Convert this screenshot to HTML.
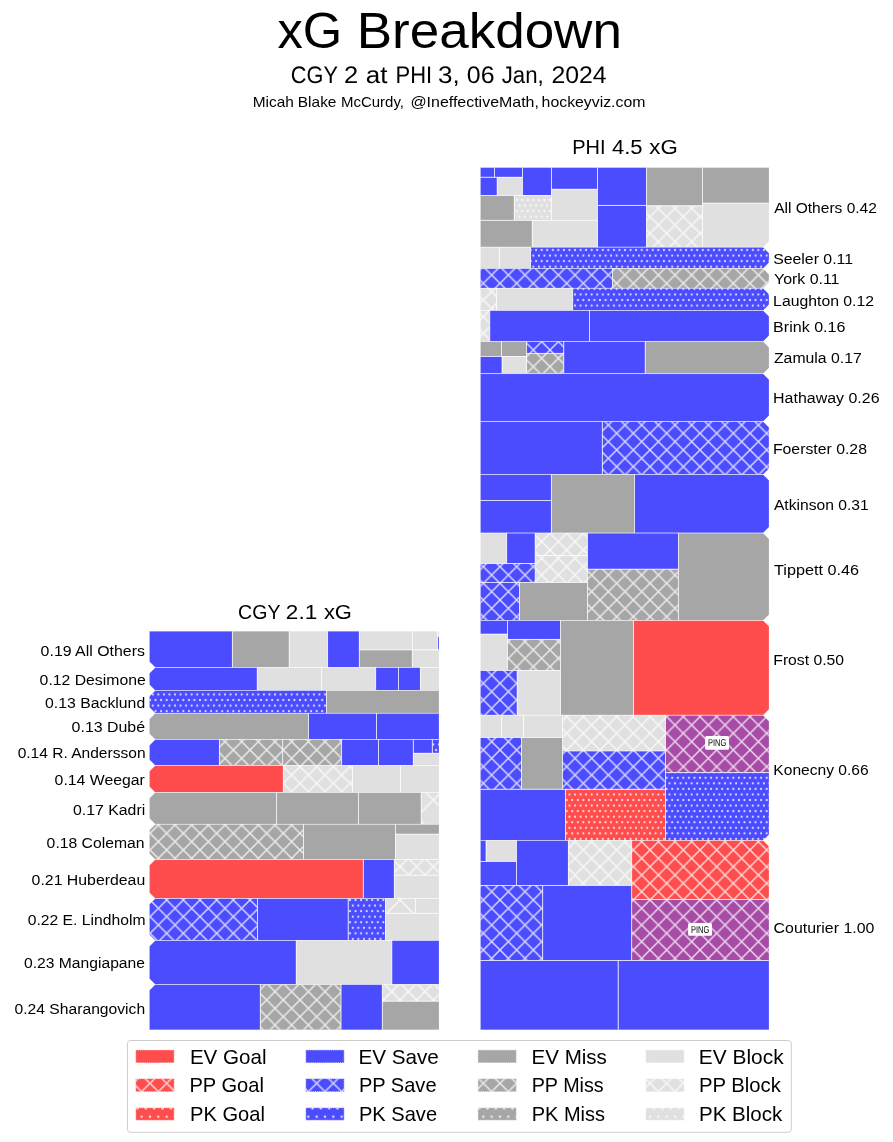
<!DOCTYPE html>
<html><head><meta charset="utf-8"><title>xG Breakdown</title>
<style>html,body{margin:0;padding:0;background:#fff}svg{display:block;will-change:transform}text{font-family:"Liberation Sans",sans-serif;fill:#000}</style></head><body>
<svg width="893" height="1142" viewBox="0 0 893 1142">
<defs>
<pattern id="hx" patternUnits="userSpaceOnUse" x="0" y="0" width="16.6667" height="16.6667"><path d="M-1,-1L17.6667,17.6667M-1,17.6667L17.6667,-1M-17.6667,-1L1,17.6667M15.6667,-1L34.3333,17.6667M-1.0000,1L1,-1M15.6667,17.6667L17.6667,15.6667" stroke="#FFFFFF" stroke-opacity="0.78" stroke-width="1.45" fill="none"/></pattern>
<pattern id="hX" patternUnits="userSpaceOnUse" x="0" y="0" width="33.3333" height="33.3333"><path d="M-1,-1L34.3333,34.3333M-1,34.3333L34.3333,-1M-1.0000,1L1,-1M32.3333,34.3333L34.3333,32.3333M32.3333,-1L34.3333,1M-1,32.3333L1,34.3333" stroke="#FFFFFF" stroke-opacity="0.78" stroke-width="1.45" fill="none"/></pattern>
<pattern id="hd" patternUnits="userSpaceOnUse" x="0" y="0" width="5.5556" height="11.1111"><circle cx="0.0000" cy="0.0000" r="1.1" fill="#FFFFFF" fill-opacity="0.78"/><circle cx="5.5556" cy="0.0000" r="1.1" fill="#FFFFFF" fill-opacity="0.78"/><circle cx="0.0000" cy="11.1111" r="1.1" fill="#FFFFFF" fill-opacity="0.78"/><circle cx="5.5556" cy="11.1111" r="1.1" fill="#FFFFFF" fill-opacity="0.78"/><circle cx="2.7778" cy="5.5556" r="1.1" fill="#FFFFFF" fill-opacity="0.78"/></pattern>
<pattern id="hd2" patternUnits="userSpaceOnUse" x="0" y="0" width="8.3333" height="16.6667"><circle cx="0.0000" cy="0.0000" r="1.2" fill="#FFFFFF" fill-opacity="0.78"/><circle cx="8.3333" cy="0.0000" r="1.2" fill="#FFFFFF" fill-opacity="0.78"/><circle cx="0.0000" cy="16.6667" r="1.2" fill="#FFFFFF" fill-opacity="0.78"/><circle cx="8.3333" cy="16.6667" r="1.2" fill="#FFFFFF" fill-opacity="0.78"/><circle cx="4.1667" cy="8.3333" r="1.2" fill="#FFFFFF" fill-opacity="0.78"/></pattern>
<clipPath id="kp0"><polygon points="480.45,167.55 768.95,167.55 768.95,167.55 768.95,167.55 768.95,241.2 762.95,247.2 762.95,248.2 480.45,248.2"/></clipPath>
<clipPath id="kp1"><polygon points="480.45,246.2 762.95,246.2 762.95,247.2 768.95,253.2 768.95,262.45 762.95,268.45 762.95,269.45 480.45,269.45"/></clipPath>
<clipPath id="kp2"><polygon points="480.45,267.45 762.95,267.45 762.95,268.45 768.95,274.45 768.95,282.3 762.95,288.3 762.95,289.3 480.45,289.3"/></clipPath>
<clipPath id="kp3"><polygon points="480.45,287.3 762.95,287.3 762.95,288.3 768.95,294.3 768.95,304.5 762.95,310.5 762.95,311.5 480.45,311.5"/></clipPath>
<clipPath id="kp4"><polygon points="480.45,309.5 762.95,309.5 762.95,310.5 768.95,316.5 768.95,335.5 762.95,341.5 762.95,342.5 480.45,342.5"/></clipPath>
<clipPath id="kp5"><polygon points="480.45,340.5 762.95,340.5 762.95,341.5 768.95,347.5 768.95,367.65 762.95,373.65 762.95,374.65 480.45,374.65"/></clipPath>
<clipPath id="kp6"><polygon points="480.45,372.65 762.95,372.65 762.95,373.65 768.95,379.65 768.95,415.6 762.95,421.6 762.95,422.6 480.45,422.6"/></clipPath>
<clipPath id="kp7"><polygon points="480.45,420.6 762.95,420.6 762.95,421.6 768.95,427.6 768.95,468.55 762.95,474.55 762.95,475.55 480.45,475.55"/></clipPath>
<clipPath id="kp8"><polygon points="480.45,473.55 762.95,473.55 762.95,474.55 768.95,480.55 768.95,527.1 762.95,533.1 762.95,534.1 480.45,534.1"/></clipPath>
<clipPath id="kp9"><polygon points="480.45,532.1 762.95,532.1 762.95,533.1 768.95,539.1 768.95,614.5 762.95,620.5 762.95,621.5 480.45,621.5"/></clipPath>
<clipPath id="kp10"><polygon points="480.45,619.5 762.95,619.5 762.95,620.5 768.95,626.5 768.95,709.25 762.95,715.25 762.95,716.25 480.45,716.25"/></clipPath>
<clipPath id="kp11"><polygon points="480.45,714.25 762.95,714.25 762.95,715.25 768.95,721.25 768.95,834.4 762.95,840.4 762.95,841.4 480.45,841.4"/></clipPath>
<clipPath id="kp12"><polygon points="480.45,839.4 762.95,839.4 762.95,840.4 768.95,846.4 768.95,1029.85 768.95,1029.85 768.95,1029.85 480.45,1029.85"/></clipPath>
<clipPath id="kc0"><polygon points="438.95,631.35 149.45,631.35 149.45,631.35 149.45,631.35 149.45,661.5 155.45,667.5 155.45,668.5 438.95,668.5"/></clipPath>
<clipPath id="kc1"><polygon points="438.95,666.5 155.45,666.5 155.45,667.5 149.45,673.5 149.45,684.4 155.45,690.4 155.45,691.4 438.95,691.4"/></clipPath>
<clipPath id="kc2"><polygon points="438.95,689.4 155.45,689.4 155.45,690.4 149.45,696.4 149.45,707.3 155.45,713.3 155.45,714.3 438.95,714.3"/></clipPath>
<clipPath id="kc3"><polygon points="438.95,712.3 155.45,712.3 155.45,713.3 149.45,719.3 149.45,733.45 155.45,739.45 155.45,740.45 438.95,740.45"/></clipPath>
<clipPath id="kc4"><polygon points="438.95,738.45 155.45,738.45 155.45,739.45 149.45,745.45 149.45,759.5 155.45,765.5 155.45,766.5 438.95,766.5"/></clipPath>
<clipPath id="kc5"><polygon points="438.95,764.5 155.45,764.5 155.45,765.5 149.45,771.5 149.45,786.45 155.45,792.45 155.45,793.45 438.95,793.45"/></clipPath>
<clipPath id="kc6"><polygon points="438.95,791.45 155.45,791.45 155.45,792.45 149.45,798.45 149.45,818.3 155.45,824.3 155.45,825.3 438.95,825.3"/></clipPath>
<clipPath id="kc7"><polygon points="438.95,823.3 155.45,823.3 155.45,824.3 149.45,830.3 149.45,853.6 155.45,859.6 155.45,860.6 438.95,860.6"/></clipPath>
<clipPath id="kc8"><polygon points="438.95,858.6 155.45,858.6 155.45,859.6 149.45,865.6 149.45,892.5 155.45,898.5 155.45,899.5 438.95,899.5"/></clipPath>
<clipPath id="kc9"><polygon points="438.95,897.5 155.45,897.5 155.45,898.5 149.45,904.5 149.45,934.5 155.45,940.5 155.45,941.5 438.95,941.5"/></clipPath>
<clipPath id="kc10"><polygon points="438.95,939.5 155.45,939.5 155.45,940.5 149.45,946.5 149.45,978.5 155.45,984.5 155.45,985.5 438.95,985.5"/></clipPath>
<clipPath id="kc11"><polygon points="438.95,983.5 155.45,983.5 155.45,984.5 149.45,990.5 149.45,1029.85 149.45,1029.85 149.45,1029.85 438.95,1029.85"/></clipPath>
</defs>
<rect width="893" height="1142" fill="#fff"/>
<g clip-path="url(#kp0)">
<rect x="480.1" y="167.2" width="14.3" height="10.05" fill="#4C4CFF"/>
<rect x="494.4" y="167.2" width="28.1" height="10.05" fill="#4C4CFF"/>
<rect x="480.1" y="177.25" width="17.1" height="18.15" fill="#4C4CFF"/>
<rect x="497.2" y="177.25" width="25.3" height="18.15" fill="#E0E0E0"/>
<rect x="522.5" y="167.2" width="28.9" height="28.2" fill="#4C4CFF"/>
<rect x="551.4" y="167.2" width="46.05" height="22.05" fill="#4C4CFF"/>
<rect x="551.4" y="189.25" width="46.05" height="31.05" fill="#E0E0E0"/>
<rect x="597.45" y="167.2" width="49" height="38.15" fill="#4C4CFF"/>
<rect x="597.45" y="205.35" width="49" height="41.85" fill="#4C4CFF"/>
<rect x="480.1" y="195.4" width="34.15" height="24.9" fill="#A6A6A6"/>
<rect x="514.25" y="195.4" width="37.15" height="24.9" fill="#E0E0E0"/>
<rect x="514.25" y="195.4" width="37.15" height="24.9" fill="url(#hd)"/>
<rect x="480.1" y="220.3" width="52.15" height="26.9" fill="#A6A6A6"/>
<rect x="532.25" y="220.3" width="65.2" height="26.9" fill="#E0E0E0"/>
<rect x="646.45" y="167.2" width="55.95" height="38.6" fill="#A6A6A6"/>
<rect x="702.4" y="167.2" width="66.9" height="35.95" fill="#A6A6A6"/>
<rect x="646.45" y="205.8" width="55.95" height="41.4" fill="#E0E0E0"/>
<rect x="646.45" y="205.8" width="55.95" height="41.4" fill="url(#hx)"/>
<rect x="702.4" y="203.15" width="66.9" height="44.05" fill="#E0E0E0"/>
<rect x="480.1" y="167.2" width="14.3" height="10.05" fill="none" stroke="#FFFFFF" stroke-opacity="0.6" stroke-width="0.8"/>
<rect x="494.4" y="167.2" width="28.1" height="10.05" fill="none" stroke="#FFFFFF" stroke-opacity="0.6" stroke-width="0.8"/>
<rect x="480.1" y="177.25" width="17.1" height="18.15" fill="none" stroke="#FFFFFF" stroke-opacity="0.6" stroke-width="0.8"/>
<rect x="497.2" y="177.25" width="25.3" height="18.15" fill="none" stroke="#FFFFFF" stroke-opacity="0.6" stroke-width="0.8"/>
<rect x="522.5" y="167.2" width="28.9" height="28.2" fill="none" stroke="#FFFFFF" stroke-opacity="0.6" stroke-width="0.8"/>
<rect x="551.4" y="167.2" width="46.05" height="22.05" fill="none" stroke="#FFFFFF" stroke-opacity="0.6" stroke-width="0.8"/>
<rect x="551.4" y="189.25" width="46.05" height="31.05" fill="none" stroke="#FFFFFF" stroke-opacity="0.6" stroke-width="0.8"/>
<rect x="597.45" y="167.2" width="49" height="38.15" fill="none" stroke="#FFFFFF" stroke-opacity="0.6" stroke-width="0.8"/>
<rect x="597.45" y="205.35" width="49" height="41.85" fill="none" stroke="#FFFFFF" stroke-opacity="0.6" stroke-width="0.8"/>
<rect x="480.1" y="195.4" width="34.15" height="24.9" fill="none" stroke="#FFFFFF" stroke-opacity="0.6" stroke-width="0.8"/>
<rect x="514.25" y="195.4" width="37.15" height="24.9" fill="none" stroke="#FFFFFF" stroke-opacity="0.6" stroke-width="0.8"/>
<rect x="480.1" y="220.3" width="52.15" height="26.9" fill="none" stroke="#FFFFFF" stroke-opacity="0.6" stroke-width="0.8"/>
<rect x="532.25" y="220.3" width="65.2" height="26.9" fill="none" stroke="#FFFFFF" stroke-opacity="0.6" stroke-width="0.8"/>
<rect x="646.45" y="167.2" width="55.95" height="38.6" fill="none" stroke="#FFFFFF" stroke-opacity="0.6" stroke-width="0.8"/>
<rect x="702.4" y="167.2" width="66.9" height="35.95" fill="none" stroke="#FFFFFF" stroke-opacity="0.6" stroke-width="0.8"/>
<rect x="646.45" y="205.8" width="55.95" height="41.4" fill="none" stroke="#FFFFFF" stroke-opacity="0.6" stroke-width="0.8"/>
<rect x="702.4" y="203.15" width="66.9" height="44.05" fill="none" stroke="#FFFFFF" stroke-opacity="0.6" stroke-width="0.8"/>
</g>
<g clip-path="url(#kp1)">
<rect x="480.1" y="247.2" width="19.25" height="21.25" fill="#E0E0E0"/>
<rect x="499.35" y="247.2" width="31.3" height="21.25" fill="#E0E0E0"/>
<rect x="530.65" y="247.2" width="238.65" height="21.25" fill="#4C4CFF"/>
<rect x="530.65" y="247.2" width="238.65" height="21.25" fill="url(#hd)"/>
<rect x="480.1" y="247.2" width="19.25" height="21.25" fill="none" stroke="#FFFFFF" stroke-opacity="0.6" stroke-width="0.8"/>
<rect x="499.35" y="247.2" width="31.3" height="21.25" fill="none" stroke="#FFFFFF" stroke-opacity="0.6" stroke-width="0.8"/>
<rect x="530.65" y="247.2" width="238.65" height="21.25" fill="none" stroke="#FFFFFF" stroke-opacity="0.6" stroke-width="0.8"/>
</g>
<g clip-path="url(#kp2)">
<rect x="480.1" y="268.45" width="132.5" height="19.85" fill="#4C4CFF"/>
<rect x="480.1" y="268.45" width="132.5" height="19.85" fill="url(#hx)"/>
<rect x="612.6" y="268.45" width="156.7" height="19.85" fill="#A6A6A6"/>
<rect x="612.6" y="268.45" width="156.7" height="19.85" fill="url(#hx)"/>
<rect x="480.1" y="268.45" width="132.5" height="19.85" fill="none" stroke="#FFFFFF" stroke-opacity="0.6" stroke-width="0.8"/>
<rect x="612.6" y="268.45" width="156.7" height="19.85" fill="none" stroke="#FFFFFF" stroke-opacity="0.6" stroke-width="0.8"/>
</g>
<g clip-path="url(#kp3)">
<rect x="480.1" y="288.3" width="16.45" height="22.2" fill="#E0E0E0"/>
<rect x="480.1" y="288.3" width="16.45" height="22.2" fill="url(#hx)"/>
<rect x="496.55" y="288.3" width="76.15" height="22.2" fill="#E0E0E0"/>
<rect x="572.7" y="288.3" width="196.6" height="22.2" fill="#4C4CFF"/>
<rect x="572.7" y="288.3" width="196.6" height="22.2" fill="url(#hd)"/>
<rect x="480.1" y="288.3" width="16.45" height="22.2" fill="none" stroke="#FFFFFF" stroke-opacity="0.6" stroke-width="0.8"/>
<rect x="496.55" y="288.3" width="76.15" height="22.2" fill="none" stroke="#FFFFFF" stroke-opacity="0.6" stroke-width="0.8"/>
<rect x="572.7" y="288.3" width="196.6" height="22.2" fill="none" stroke="#FFFFFF" stroke-opacity="0.6" stroke-width="0.8"/>
</g>
<g clip-path="url(#kp4)">
<rect x="480.1" y="310.5" width="9.65" height="31" fill="#E0E0E0"/>
<rect x="480.1" y="310.5" width="9.65" height="31" fill="url(#hx)"/>
<rect x="489.75" y="310.5" width="99.65" height="31" fill="#4C4CFF"/>
<rect x="589.4" y="310.5" width="179.9" height="31" fill="#4C4CFF"/>
<rect x="480.1" y="310.5" width="9.65" height="31" fill="none" stroke="#FFFFFF" stroke-opacity="0.6" stroke-width="0.8"/>
<rect x="489.75" y="310.5" width="99.65" height="31" fill="none" stroke="#FFFFFF" stroke-opacity="0.6" stroke-width="0.8"/>
<rect x="589.4" y="310.5" width="179.9" height="31" fill="none" stroke="#FFFFFF" stroke-opacity="0.6" stroke-width="0.8"/>
</g>
<g clip-path="url(#kp5)">
<rect x="480.1" y="341.5" width="21.5" height="14.9" fill="#A6A6A6"/>
<rect x="501.6" y="341.5" width="25.05" height="14.9" fill="#A6A6A6"/>
<rect x="526.65" y="341.5" width="37.1" height="11.85" fill="#4C4CFF"/>
<rect x="526.65" y="341.5" width="37.1" height="11.85" fill="url(#hx)"/>
<rect x="526.65" y="353.35" width="37.1" height="20.3" fill="#A6A6A6"/>
<rect x="526.65" y="353.35" width="37.1" height="20.3" fill="url(#hx)"/>
<rect x="480.1" y="356.4" width="22" height="17.25" fill="#4C4CFF"/>
<rect x="502.1" y="356.4" width="24.55" height="17.25" fill="#E0E0E0"/>
<rect x="563.75" y="341.5" width="81.5" height="32.15" fill="#4C4CFF"/>
<rect x="645.25" y="341.5" width="124.05" height="32.15" fill="#A6A6A6"/>
<rect x="480.1" y="341.5" width="21.5" height="14.9" fill="none" stroke="#FFFFFF" stroke-opacity="0.6" stroke-width="0.8"/>
<rect x="501.6" y="341.5" width="25.05" height="14.9" fill="none" stroke="#FFFFFF" stroke-opacity="0.6" stroke-width="0.8"/>
<rect x="526.65" y="341.5" width="37.1" height="11.85" fill="none" stroke="#FFFFFF" stroke-opacity="0.6" stroke-width="0.8"/>
<rect x="526.65" y="353.35" width="37.1" height="20.3" fill="none" stroke="#FFFFFF" stroke-opacity="0.6" stroke-width="0.8"/>
<rect x="480.1" y="356.4" width="22" height="17.25" fill="none" stroke="#FFFFFF" stroke-opacity="0.6" stroke-width="0.8"/>
<rect x="502.1" y="356.4" width="24.55" height="17.25" fill="none" stroke="#FFFFFF" stroke-opacity="0.6" stroke-width="0.8"/>
<rect x="563.75" y="341.5" width="81.5" height="32.15" fill="none" stroke="#FFFFFF" stroke-opacity="0.6" stroke-width="0.8"/>
<rect x="645.25" y="341.5" width="124.05" height="32.15" fill="none" stroke="#FFFFFF" stroke-opacity="0.6" stroke-width="0.8"/>
</g>
<g clip-path="url(#kp6)">
<rect x="480.1" y="373.65" width="289.2" height="47.95" fill="#4C4CFF"/>
<rect x="480.1" y="373.65" width="289.2" height="47.95" fill="none" stroke="#FFFFFF" stroke-opacity="0.6" stroke-width="0.8"/>
</g>
<g clip-path="url(#kp7)">
<rect x="480.1" y="421.6" width="122.2" height="52.95" fill="#4C4CFF"/>
<rect x="602.3" y="421.6" width="167" height="52.95" fill="#4C4CFF"/>
<rect x="602.3" y="421.6" width="167" height="52.95" fill="url(#hx)"/>
<rect x="480.1" y="421.6" width="122.2" height="52.95" fill="none" stroke="#FFFFFF" stroke-opacity="0.6" stroke-width="0.8"/>
<rect x="602.3" y="421.6" width="167" height="52.95" fill="none" stroke="#FFFFFF" stroke-opacity="0.6" stroke-width="0.8"/>
</g>
<g clip-path="url(#kp8)">
<rect x="480.1" y="474.55" width="71.25" height="25.9" fill="#4C4CFF"/>
<rect x="480.1" y="500.45" width="71.25" height="32.65" fill="#4C4CFF"/>
<rect x="551.35" y="474.55" width="83.15" height="58.55" fill="#A6A6A6"/>
<rect x="634.5" y="474.55" width="134.8" height="58.55" fill="#4C4CFF"/>
<rect x="480.1" y="474.55" width="71.25" height="25.9" fill="none" stroke="#FFFFFF" stroke-opacity="0.6" stroke-width="0.8"/>
<rect x="480.1" y="500.45" width="71.25" height="32.65" fill="none" stroke="#FFFFFF" stroke-opacity="0.6" stroke-width="0.8"/>
<rect x="551.35" y="474.55" width="83.15" height="58.55" fill="none" stroke="#FFFFFF" stroke-opacity="0.6" stroke-width="0.8"/>
<rect x="634.5" y="474.55" width="134.8" height="58.55" fill="none" stroke="#FFFFFF" stroke-opacity="0.6" stroke-width="0.8"/>
</g>
<g clip-path="url(#kp9)">
<rect x="480.1" y="533.1" width="26.6" height="30.4" fill="#E0E0E0"/>
<rect x="506.7" y="533.1" width="28.5" height="30.4" fill="#4C4CFF"/>
<rect x="535.2" y="533.1" width="52.2" height="22.25" fill="#E0E0E0"/>
<rect x="535.2" y="533.1" width="52.2" height="22.25" fill="url(#hx)"/>
<rect x="535.2" y="555.35" width="52.2" height="27.15" fill="#E0E0E0"/>
<rect x="535.2" y="555.35" width="52.2" height="27.15" fill="url(#hx)"/>
<rect x="587.4" y="533.1" width="91" height="36.1" fill="#4C4CFF"/>
<rect x="480.1" y="563.5" width="55.1" height="19" fill="#4C4CFF"/>
<rect x="480.1" y="563.5" width="55.1" height="19" fill="url(#hx)"/>
<rect x="480.1" y="582.5" width="39.45" height="38" fill="#4C4CFF"/>
<rect x="480.1" y="582.5" width="39.45" height="38" fill="url(#hx)"/>
<rect x="519.55" y="582.5" width="67.85" height="38" fill="#A6A6A6"/>
<rect x="587.4" y="569.2" width="91" height="51.3" fill="#A6A6A6"/>
<rect x="587.4" y="569.2" width="91" height="51.3" fill="url(#hx)"/>
<rect x="678.4" y="533.1" width="90.9" height="87.4" fill="#A6A6A6"/>
<rect x="480.1" y="533.1" width="26.6" height="30.4" fill="none" stroke="#FFFFFF" stroke-opacity="0.6" stroke-width="0.8"/>
<rect x="506.7" y="533.1" width="28.5" height="30.4" fill="none" stroke="#FFFFFF" stroke-opacity="0.6" stroke-width="0.8"/>
<rect x="535.2" y="533.1" width="52.2" height="22.25" fill="none" stroke="#FFFFFF" stroke-opacity="0.6" stroke-width="0.8"/>
<rect x="535.2" y="555.35" width="52.2" height="27.15" fill="none" stroke="#FFFFFF" stroke-opacity="0.6" stroke-width="0.8"/>
<rect x="587.4" y="533.1" width="91" height="36.1" fill="none" stroke="#FFFFFF" stroke-opacity="0.6" stroke-width="0.8"/>
<rect x="480.1" y="563.5" width="55.1" height="19" fill="none" stroke="#FFFFFF" stroke-opacity="0.6" stroke-width="0.8"/>
<rect x="480.1" y="582.5" width="39.45" height="38" fill="none" stroke="#FFFFFF" stroke-opacity="0.6" stroke-width="0.8"/>
<rect x="519.55" y="582.5" width="67.85" height="38" fill="none" stroke="#FFFFFF" stroke-opacity="0.6" stroke-width="0.8"/>
<rect x="587.4" y="569.2" width="91" height="51.3" fill="none" stroke="#FFFFFF" stroke-opacity="0.6" stroke-width="0.8"/>
<rect x="678.4" y="533.1" width="90.9" height="87.4" fill="none" stroke="#FFFFFF" stroke-opacity="0.6" stroke-width="0.8"/>
</g>
<g clip-path="url(#kp10)">
<rect x="480.1" y="620.5" width="27.3" height="13.65" fill="#4C4CFF"/>
<rect x="507.4" y="620.5" width="53.1" height="18.85" fill="#4C4CFF"/>
<rect x="480.1" y="634.15" width="27.3" height="36.25" fill="#E0E0E0"/>
<rect x="507.4" y="639.35" width="53.1" height="31.05" fill="#A6A6A6"/>
<rect x="507.4" y="639.35" width="53.1" height="31.05" fill="url(#hx)"/>
<rect x="480.1" y="670.4" width="37.1" height="44.85" fill="#4C4CFF"/>
<rect x="480.1" y="670.4" width="37.1" height="44.85" fill="url(#hx)"/>
<rect x="517.2" y="670.4" width="43.3" height="44.85" fill="#E0E0E0"/>
<rect x="560.5" y="620.5" width="73" height="94.75" fill="#A6A6A6"/>
<rect x="633.5" y="620.5" width="135.8" height="94.75" fill="#FF4C4C"/>
<rect x="480.1" y="620.5" width="27.3" height="13.65" fill="none" stroke="#FFFFFF" stroke-opacity="0.6" stroke-width="0.8"/>
<rect x="507.4" y="620.5" width="53.1" height="18.85" fill="none" stroke="#FFFFFF" stroke-opacity="0.6" stroke-width="0.8"/>
<rect x="480.1" y="634.15" width="27.3" height="36.25" fill="none" stroke="#FFFFFF" stroke-opacity="0.6" stroke-width="0.8"/>
<rect x="507.4" y="639.35" width="53.1" height="31.05" fill="none" stroke="#FFFFFF" stroke-opacity="0.6" stroke-width="0.8"/>
<rect x="480.1" y="670.4" width="37.1" height="44.85" fill="none" stroke="#FFFFFF" stroke-opacity="0.6" stroke-width="0.8"/>
<rect x="517.2" y="670.4" width="43.3" height="44.85" fill="none" stroke="#FFFFFF" stroke-opacity="0.6" stroke-width="0.8"/>
<rect x="560.5" y="620.5" width="73" height="94.75" fill="none" stroke="#FFFFFF" stroke-opacity="0.6" stroke-width="0.8"/>
<rect x="633.5" y="620.5" width="135.8" height="94.75" fill="none" stroke="#FFFFFF" stroke-opacity="0.6" stroke-width="0.8"/>
</g>
<g clip-path="url(#kp11)">
<rect x="480.1" y="715.25" width="21.45" height="22.2" fill="#E0E0E0"/>
<rect x="501.55" y="715.25" width="21.95" height="22.2" fill="#E0E0E0"/>
<rect x="523.5" y="715.25" width="39" height="22.2" fill="#E0E0E0"/>
<rect x="562.5" y="715.25" width="103.1" height="35.65" fill="#E0E0E0"/>
<rect x="562.5" y="715.25" width="103.1" height="35.65" fill="url(#hx)"/>
<rect x="480.1" y="737.45" width="41.4" height="51.8" fill="#4C4CFF"/>
<rect x="480.1" y="737.45" width="41.4" height="51.8" fill="url(#hx)"/>
<rect x="521.5" y="737.45" width="41" height="51.8" fill="#A6A6A6"/>
<rect x="562.5" y="750.9" width="103.1" height="38.35" fill="#4C4CFF"/>
<rect x="562.5" y="750.9" width="103.1" height="38.35" fill="url(#hx)"/>
<rect x="480.1" y="789.25" width="85.45" height="51.15" fill="#4C4CFF"/>
<rect x="565.55" y="789.25" width="100.05" height="51.15" fill="#FF4C4C"/>
<rect x="565.55" y="789.25" width="100.05" height="51.15" fill="url(#hd)"/>
<rect x="665.6" y="715.25" width="103.7" height="57.4" fill="#A64CA6"/>
<rect x="665.6" y="715.25" width="103.7" height="57.4" fill="url(#hx)"/>
<rect x="665.6" y="772.65" width="103.7" height="67.75" fill="#4C4CFF"/>
<rect x="665.6" y="772.65" width="103.7" height="67.75" fill="url(#hd)"/>
<rect x="480.1" y="715.25" width="21.45" height="22.2" fill="none" stroke="#FFFFFF" stroke-opacity="0.6" stroke-width="0.8"/>
<rect x="501.55" y="715.25" width="21.95" height="22.2" fill="none" stroke="#FFFFFF" stroke-opacity="0.6" stroke-width="0.8"/>
<rect x="523.5" y="715.25" width="39" height="22.2" fill="none" stroke="#FFFFFF" stroke-opacity="0.6" stroke-width="0.8"/>
<rect x="562.5" y="715.25" width="103.1" height="35.65" fill="none" stroke="#FFFFFF" stroke-opacity="0.6" stroke-width="0.8"/>
<rect x="480.1" y="737.45" width="41.4" height="51.8" fill="none" stroke="#FFFFFF" stroke-opacity="0.6" stroke-width="0.8"/>
<rect x="521.5" y="737.45" width="41" height="51.8" fill="none" stroke="#FFFFFF" stroke-opacity="0.6" stroke-width="0.8"/>
<rect x="562.5" y="750.9" width="103.1" height="38.35" fill="none" stroke="#FFFFFF" stroke-opacity="0.6" stroke-width="0.8"/>
<rect x="480.1" y="789.25" width="85.45" height="51.15" fill="none" stroke="#FFFFFF" stroke-opacity="0.6" stroke-width="0.8"/>
<rect x="565.55" y="789.25" width="100.05" height="51.15" fill="none" stroke="#FFFFFF" stroke-opacity="0.6" stroke-width="0.8"/>
<rect x="665.6" y="715.25" width="103.7" height="57.4" fill="none" stroke="#FFFFFF" stroke-opacity="0.6" stroke-width="0.8"/>
<rect x="665.6" y="772.65" width="103.7" height="67.75" fill="none" stroke="#FFFFFF" stroke-opacity="0.6" stroke-width="0.8"/>
</g>
<g clip-path="url(#kp12)">
<rect x="480.1" y="840.4" width="6" height="21" fill="#4C4CFF"/>
<rect x="486.1" y="840.4" width="30.35" height="21" fill="#E0E0E0"/>
<rect x="480.1" y="861.4" width="36.35" height="24" fill="#4C4CFF"/>
<rect x="516.45" y="840.4" width="51.9" height="45" fill="#4C4CFF"/>
<rect x="568.35" y="840.4" width="63.35" height="45" fill="#E0E0E0"/>
<rect x="568.35" y="840.4" width="63.35" height="45" fill="url(#hx)"/>
<rect x="631.7" y="840.4" width="137.6" height="59.2" fill="#FF4C4C"/>
<rect x="631.7" y="840.4" width="137.6" height="59.2" fill="url(#hx)"/>
<rect x="480.1" y="885.4" width="62.6" height="75.05" fill="#4C4CFF"/>
<rect x="480.1" y="885.4" width="62.6" height="75.05" fill="url(#hx)"/>
<rect x="542.7" y="885.4" width="89" height="75.05" fill="#4C4CFF"/>
<rect x="631.7" y="899.6" width="137.6" height="60.85" fill="#A64CA6"/>
<rect x="631.7" y="899.6" width="137.6" height="60.85" fill="url(#hx)"/>
<rect x="480.1" y="960.45" width="138.1" height="69.75" fill="#4C4CFF"/>
<rect x="618.2" y="960.45" width="151.1" height="69.75" fill="#4C4CFF"/>
<rect x="480.1" y="840.4" width="6" height="21" fill="none" stroke="#FFFFFF" stroke-opacity="0.6" stroke-width="0.8"/>
<rect x="486.1" y="840.4" width="30.35" height="21" fill="none" stroke="#FFFFFF" stroke-opacity="0.6" stroke-width="0.8"/>
<rect x="480.1" y="861.4" width="36.35" height="24" fill="none" stroke="#FFFFFF" stroke-opacity="0.6" stroke-width="0.8"/>
<rect x="516.45" y="840.4" width="51.9" height="45" fill="none" stroke="#FFFFFF" stroke-opacity="0.6" stroke-width="0.8"/>
<rect x="568.35" y="840.4" width="63.35" height="45" fill="none" stroke="#FFFFFF" stroke-opacity="0.6" stroke-width="0.8"/>
<rect x="631.7" y="840.4" width="137.6" height="59.2" fill="none" stroke="#FFFFFF" stroke-opacity="0.6" stroke-width="0.8"/>
<rect x="480.1" y="885.4" width="62.6" height="75.05" fill="none" stroke="#FFFFFF" stroke-opacity="0.6" stroke-width="0.8"/>
<rect x="542.7" y="885.4" width="89" height="75.05" fill="none" stroke="#FFFFFF" stroke-opacity="0.6" stroke-width="0.8"/>
<rect x="631.7" y="899.6" width="137.6" height="60.85" fill="none" stroke="#FFFFFF" stroke-opacity="0.6" stroke-width="0.8"/>
<rect x="480.1" y="960.45" width="138.1" height="69.75" fill="none" stroke="#FFFFFF" stroke-opacity="0.6" stroke-width="0.8"/>
<rect x="618.2" y="960.45" width="151.1" height="69.75" fill="none" stroke="#FFFFFF" stroke-opacity="0.6" stroke-width="0.8"/>
</g>
<g clip-path="url(#kc0)">
<rect x="149.1" y="631" width="83.25" height="36.5" fill="#4C4CFF"/>
<rect x="232.35" y="631" width="56.85" height="36.5" fill="#A6A6A6"/>
<rect x="289.2" y="631" width="38.45" height="36.5" fill="#E0E0E0"/>
<rect x="327.65" y="631" width="31.65" height="36.5" fill="#4C4CFF"/>
<rect x="359.3" y="631" width="53" height="18.85" fill="#E0E0E0"/>
<rect x="359.3" y="649.85" width="53" height="17.65" fill="#A6A6A6"/>
<rect x="412.3" y="631" width="25.35" height="18.85" fill="#E0E0E0"/>
<rect x="437.65" y="631" width="1.65" height="5.5" fill="#E0E0E0"/>
<rect x="437.65" y="636.5" width="1.65" height="13.35" fill="#4C4CFF"/>
<rect x="412.3" y="649.85" width="27" height="17.65" fill="#E0E0E0"/>
<rect x="149.1" y="631" width="83.25" height="36.5" fill="none" stroke="#FFFFFF" stroke-opacity="0.6" stroke-width="0.8"/>
<rect x="232.35" y="631" width="56.85" height="36.5" fill="none" stroke="#FFFFFF" stroke-opacity="0.6" stroke-width="0.8"/>
<rect x="289.2" y="631" width="38.45" height="36.5" fill="none" stroke="#FFFFFF" stroke-opacity="0.6" stroke-width="0.8"/>
<rect x="327.65" y="631" width="31.65" height="36.5" fill="none" stroke="#FFFFFF" stroke-opacity="0.6" stroke-width="0.8"/>
<rect x="359.3" y="631" width="53" height="18.85" fill="none" stroke="#FFFFFF" stroke-opacity="0.6" stroke-width="0.8"/>
<rect x="359.3" y="649.85" width="53" height="17.65" fill="none" stroke="#FFFFFF" stroke-opacity="0.6" stroke-width="0.8"/>
<rect x="412.3" y="631" width="25.35" height="18.85" fill="none" stroke="#FFFFFF" stroke-opacity="0.6" stroke-width="0.8"/>
<rect x="437.65" y="631" width="1.65" height="5.5" fill="none" stroke="#FFFFFF" stroke-opacity="0.6" stroke-width="0.8"/>
<rect x="437.65" y="636.5" width="1.65" height="13.35" fill="none" stroke="#FFFFFF" stroke-opacity="0.6" stroke-width="0.8"/>
<rect x="412.3" y="649.85" width="27" height="17.65" fill="none" stroke="#FFFFFF" stroke-opacity="0.6" stroke-width="0.8"/>
</g>
<g clip-path="url(#kc1)">
<rect x="149.1" y="667.5" width="108.15" height="22.9" fill="#4C4CFF"/>
<rect x="257.25" y="667.5" width="64.25" height="22.9" fill="#E0E0E0"/>
<rect x="321.5" y="667.5" width="54.2" height="22.9" fill="#E0E0E0"/>
<rect x="375.7" y="667.5" width="22.7" height="22.9" fill="#4C4CFF"/>
<rect x="398.4" y="667.5" width="21.95" height="22.9" fill="#4C4CFF"/>
<rect x="420.35" y="667.5" width="18.95" height="22.9" fill="#E0E0E0"/>
<rect x="149.1" y="667.5" width="108.15" height="22.9" fill="none" stroke="#FFFFFF" stroke-opacity="0.6" stroke-width="0.8"/>
<rect x="257.25" y="667.5" width="64.25" height="22.9" fill="none" stroke="#FFFFFF" stroke-opacity="0.6" stroke-width="0.8"/>
<rect x="321.5" y="667.5" width="54.2" height="22.9" fill="none" stroke="#FFFFFF" stroke-opacity="0.6" stroke-width="0.8"/>
<rect x="375.7" y="667.5" width="22.7" height="22.9" fill="none" stroke="#FFFFFF" stroke-opacity="0.6" stroke-width="0.8"/>
<rect x="398.4" y="667.5" width="21.95" height="22.9" fill="none" stroke="#FFFFFF" stroke-opacity="0.6" stroke-width="0.8"/>
<rect x="420.35" y="667.5" width="18.95" height="22.9" fill="none" stroke="#FFFFFF" stroke-opacity="0.6" stroke-width="0.8"/>
</g>
<g clip-path="url(#kc2)">
<rect x="149.1" y="690.4" width="177.4" height="22.9" fill="#4C4CFF"/>
<rect x="149.1" y="690.4" width="177.4" height="22.9" fill="url(#hd)"/>
<rect x="326.5" y="690.4" width="112.8" height="22.9" fill="#A6A6A6"/>
<rect x="149.1" y="690.4" width="177.4" height="22.9" fill="none" stroke="#FFFFFF" stroke-opacity="0.6" stroke-width="0.8"/>
<rect x="326.5" y="690.4" width="112.8" height="22.9" fill="none" stroke="#FFFFFF" stroke-opacity="0.6" stroke-width="0.8"/>
</g>
<g clip-path="url(#kc3)">
<rect x="149.1" y="713.3" width="159.45" height="26.15" fill="#A6A6A6"/>
<rect x="308.55" y="713.3" width="67.9" height="26.15" fill="#4C4CFF"/>
<rect x="376.45" y="713.3" width="62.85" height="26.15" fill="#4C4CFF"/>
<rect x="149.1" y="713.3" width="159.45" height="26.15" fill="none" stroke="#FFFFFF" stroke-opacity="0.6" stroke-width="0.8"/>
<rect x="308.55" y="713.3" width="67.9" height="26.15" fill="none" stroke="#FFFFFF" stroke-opacity="0.6" stroke-width="0.8"/>
<rect x="376.45" y="713.3" width="62.85" height="26.15" fill="none" stroke="#FFFFFF" stroke-opacity="0.6" stroke-width="0.8"/>
</g>
<g clip-path="url(#kc4)">
<rect x="149.1" y="739.45" width="70.25" height="26.05" fill="#4C4CFF"/>
<rect x="219.35" y="739.45" width="63.35" height="26.05" fill="#A6A6A6"/>
<rect x="219.35" y="739.45" width="63.35" height="26.05" fill="url(#hx)"/>
<rect x="282.7" y="739.45" width="58.95" height="26.05" fill="#A6A6A6"/>
<rect x="282.7" y="739.45" width="58.95" height="26.05" fill="url(#hx)"/>
<rect x="341.65" y="739.45" width="36.75" height="26.05" fill="#4C4CFF"/>
<rect x="378.4" y="739.45" width="34.9" height="26.05" fill="#4C4CFF"/>
<rect x="413.3" y="739.45" width="19" height="13.8" fill="#4C4CFF"/>
<rect x="432.3" y="739.45" width="7" height="13.8" fill="#4C4CFF"/>
<rect x="432.3" y="739.45" width="7" height="13.8" fill="url(#hd)"/>
<rect x="413.3" y="753.25" width="26" height="12.25" fill="#E0E0E0"/>
<rect x="149.1" y="739.45" width="70.25" height="26.05" fill="none" stroke="#FFFFFF" stroke-opacity="0.6" stroke-width="0.8"/>
<rect x="219.35" y="739.45" width="63.35" height="26.05" fill="none" stroke="#FFFFFF" stroke-opacity="0.6" stroke-width="0.8"/>
<rect x="282.7" y="739.45" width="58.95" height="26.05" fill="none" stroke="#FFFFFF" stroke-opacity="0.6" stroke-width="0.8"/>
<rect x="341.65" y="739.45" width="36.75" height="26.05" fill="none" stroke="#FFFFFF" stroke-opacity="0.6" stroke-width="0.8"/>
<rect x="378.4" y="739.45" width="34.9" height="26.05" fill="none" stroke="#FFFFFF" stroke-opacity="0.6" stroke-width="0.8"/>
<rect x="413.3" y="739.45" width="19" height="13.8" fill="none" stroke="#FFFFFF" stroke-opacity="0.6" stroke-width="0.8"/>
<rect x="432.3" y="739.45" width="7" height="13.8" fill="none" stroke="#FFFFFF" stroke-opacity="0.6" stroke-width="0.8"/>
<rect x="413.3" y="753.25" width="26" height="12.25" fill="none" stroke="#FFFFFF" stroke-opacity="0.6" stroke-width="0.8"/>
</g>
<g clip-path="url(#kc5)">
<rect x="149.1" y="765.5" width="134.2" height="26.95" fill="#FF4C4C"/>
<rect x="283.3" y="765.5" width="69.3" height="26.95" fill="#E0E0E0"/>
<rect x="283.3" y="765.5" width="69.3" height="26.95" fill="url(#hx)"/>
<rect x="352.6" y="765.5" width="47.9" height="26.95" fill="#E0E0E0"/>
<rect x="400.5" y="765.5" width="38.8" height="26.95" fill="#E0E0E0"/>
<rect x="149.1" y="765.5" width="134.2" height="26.95" fill="none" stroke="#FFFFFF" stroke-opacity="0.6" stroke-width="0.8"/>
<rect x="283.3" y="765.5" width="69.3" height="26.95" fill="none" stroke="#FFFFFF" stroke-opacity="0.6" stroke-width="0.8"/>
<rect x="352.6" y="765.5" width="47.9" height="26.95" fill="none" stroke="#FFFFFF" stroke-opacity="0.6" stroke-width="0.8"/>
<rect x="400.5" y="765.5" width="38.8" height="26.95" fill="none" stroke="#FFFFFF" stroke-opacity="0.6" stroke-width="0.8"/>
</g>
<g clip-path="url(#kc6)">
<rect x="149.1" y="792.45" width="127.5" height="31.85" fill="#A6A6A6"/>
<rect x="276.6" y="792.45" width="81.85" height="31.85" fill="#A6A6A6"/>
<rect x="358.45" y="792.45" width="62.75" height="31.85" fill="#A6A6A6"/>
<rect x="421.2" y="792.45" width="18.1" height="31.85" fill="#E0E0E0"/>
<rect x="421.2" y="792.45" width="18.1" height="31.85" fill="url(#hX)"/>
<rect x="149.1" y="792.45" width="127.5" height="31.85" fill="none" stroke="#FFFFFF" stroke-opacity="0.6" stroke-width="0.8"/>
<rect x="276.6" y="792.45" width="81.85" height="31.85" fill="none" stroke="#FFFFFF" stroke-opacity="0.6" stroke-width="0.8"/>
<rect x="358.45" y="792.45" width="62.75" height="31.85" fill="none" stroke="#FFFFFF" stroke-opacity="0.6" stroke-width="0.8"/>
<rect x="421.2" y="792.45" width="18.1" height="31.85" fill="none" stroke="#FFFFFF" stroke-opacity="0.6" stroke-width="0.8"/>
</g>
<g clip-path="url(#kc7)">
<rect x="149.1" y="824.3" width="154.4" height="35.3" fill="#A6A6A6"/>
<rect x="149.1" y="824.3" width="154.4" height="35.3" fill="url(#hx)"/>
<rect x="303.5" y="824.3" width="92" height="35.3" fill="#A6A6A6"/>
<rect x="395.5" y="824.3" width="43.8" height="9.9" fill="#A6A6A6"/>
<rect x="395.5" y="834.2" width="43.8" height="25.4" fill="#E0E0E0"/>
<rect x="149.1" y="824.3" width="154.4" height="35.3" fill="none" stroke="#FFFFFF" stroke-opacity="0.6" stroke-width="0.8"/>
<rect x="303.5" y="824.3" width="92" height="35.3" fill="none" stroke="#FFFFFF" stroke-opacity="0.6" stroke-width="0.8"/>
<rect x="395.5" y="824.3" width="43.8" height="9.9" fill="none" stroke="#FFFFFF" stroke-opacity="0.6" stroke-width="0.8"/>
<rect x="395.5" y="834.2" width="43.8" height="25.4" fill="none" stroke="#FFFFFF" stroke-opacity="0.6" stroke-width="0.8"/>
</g>
<g clip-path="url(#kc8)">
<rect x="149.1" y="859.6" width="214.2" height="38.9" fill="#FF4C4C"/>
<rect x="363.3" y="859.6" width="31" height="38.9" fill="#4C4CFF"/>
<rect x="394.3" y="859.6" width="45" height="15.6" fill="#E0E0E0"/>
<rect x="394.3" y="859.6" width="45" height="15.6" fill="url(#hx)"/>
<rect x="394.3" y="875.2" width="45" height="23.3" fill="#E0E0E0"/>
<rect x="149.1" y="859.6" width="214.2" height="38.9" fill="none" stroke="#FFFFFF" stroke-opacity="0.6" stroke-width="0.8"/>
<rect x="363.3" y="859.6" width="31" height="38.9" fill="none" stroke="#FFFFFF" stroke-opacity="0.6" stroke-width="0.8"/>
<rect x="394.3" y="859.6" width="45" height="15.6" fill="none" stroke="#FFFFFF" stroke-opacity="0.6" stroke-width="0.8"/>
<rect x="394.3" y="875.2" width="45" height="23.3" fill="none" stroke="#FFFFFF" stroke-opacity="0.6" stroke-width="0.8"/>
</g>
<g clip-path="url(#kc9)">
<rect x="149.1" y="898.5" width="108.5" height="42" fill="#4C4CFF"/>
<rect x="149.1" y="898.5" width="108.5" height="42" fill="url(#hx)"/>
<rect x="257.6" y="898.5" width="90.6" height="42" fill="#4C4CFF"/>
<rect x="348.2" y="898.5" width="37.2" height="42" fill="#4C4CFF"/>
<rect x="348.2" y="898.5" width="37.2" height="42" fill="url(#hd)"/>
<rect x="385.4" y="898.5" width="30.25" height="14.8" fill="#E0E0E0"/>
<rect x="385.4" y="898.5" width="30.25" height="14.8" fill="url(#hX)"/>
<rect x="415.65" y="898.5" width="23.65" height="14.8" fill="#E0E0E0"/>
<rect x="385.4" y="913.3" width="53.9" height="27.2" fill="#E0E0E0"/>
<rect x="149.1" y="898.5" width="108.5" height="42" fill="none" stroke="#FFFFFF" stroke-opacity="0.6" stroke-width="0.8"/>
<rect x="257.6" y="898.5" width="90.6" height="42" fill="none" stroke="#FFFFFF" stroke-opacity="0.6" stroke-width="0.8"/>
<rect x="348.2" y="898.5" width="37.2" height="42" fill="none" stroke="#FFFFFF" stroke-opacity="0.6" stroke-width="0.8"/>
<rect x="385.4" y="898.5" width="30.25" height="14.8" fill="none" stroke="#FFFFFF" stroke-opacity="0.6" stroke-width="0.8"/>
<rect x="415.65" y="898.5" width="23.65" height="14.8" fill="none" stroke="#FFFFFF" stroke-opacity="0.6" stroke-width="0.8"/>
<rect x="385.4" y="913.3" width="53.9" height="27.2" fill="none" stroke="#FFFFFF" stroke-opacity="0.6" stroke-width="0.8"/>
</g>
<g clip-path="url(#kc10)">
<rect x="149.1" y="940.5" width="147.15" height="44" fill="#4C4CFF"/>
<rect x="296.25" y="940.5" width="95.55" height="44" fill="#E0E0E0"/>
<rect x="391.8" y="940.5" width="47.5" height="44" fill="#4C4CFF"/>
<rect x="149.1" y="940.5" width="147.15" height="44" fill="none" stroke="#FFFFFF" stroke-opacity="0.6" stroke-width="0.8"/>
<rect x="296.25" y="940.5" width="95.55" height="44" fill="none" stroke="#FFFFFF" stroke-opacity="0.6" stroke-width="0.8"/>
<rect x="391.8" y="940.5" width="47.5" height="44" fill="none" stroke="#FFFFFF" stroke-opacity="0.6" stroke-width="0.8"/>
</g>
<g clip-path="url(#kc11)">
<rect x="149.1" y="984.5" width="111.2" height="45.7" fill="#4C4CFF"/>
<rect x="260.3" y="984.5" width="80.7" height="45.7" fill="#A6A6A6"/>
<rect x="260.3" y="984.5" width="80.7" height="45.7" fill="url(#hx)"/>
<rect x="341" y="984.5" width="41.3" height="45.7" fill="#4C4CFF"/>
<rect x="382.3" y="984.5" width="57" height="16.7" fill="#E0E0E0"/>
<rect x="382.3" y="984.5" width="57" height="16.7" fill="url(#hx)"/>
<rect x="382.3" y="1001.2" width="57" height="29" fill="#A6A6A6"/>
<rect x="149.1" y="984.5" width="111.2" height="45.7" fill="none" stroke="#FFFFFF" stroke-opacity="0.6" stroke-width="0.8"/>
<rect x="260.3" y="984.5" width="80.7" height="45.7" fill="none" stroke="#FFFFFF" stroke-opacity="0.6" stroke-width="0.8"/>
<rect x="341" y="984.5" width="41.3" height="45.7" fill="none" stroke="#FFFFFF" stroke-opacity="0.6" stroke-width="0.8"/>
<rect x="382.3" y="984.5" width="57" height="16.7" fill="none" stroke="#FFFFFF" stroke-opacity="0.6" stroke-width="0.8"/>
<rect x="382.3" y="1001.2" width="57" height="29" fill="none" stroke="#FFFFFF" stroke-opacity="0.6" stroke-width="0.8"/>
</g>
<rect x="705.1" y="736.1" width="23.9" height="13.7" rx="1.6" ry="1.6" fill="#fff"/>
<text x="708" y="745.9" font-size="10" textLength="18.2" lengthAdjust="spacingAndGlyphs" style="text-rendering:geometricPrecision">PING</text>
<rect x="688.1" y="923" width="23.9" height="12.8" rx="1.6" ry="1.6" fill="#fff"/>
<text x="691" y="932.9" font-size="10" textLength="18.2" lengthAdjust="spacingAndGlyphs" style="text-rendering:geometricPrecision">PING</text>
<rect x="127.4" y="1040.5" width="663.9" height="91.8" rx="3" ry="3" fill="#fff" stroke="#CCCCCC" stroke-width="1"/>
<rect x="135.7" y="1049.9" width="38.5" height="13" fill="#FF4C4C"/>
<rect x="135.7" y="1049.9" width="38.5" height="13" fill="none" stroke="#FFFFFF" stroke-width="0.8" stroke-dasharray="1.2 0.9"/>
<rect x="135.7" y="1078.6" width="38.5" height="13.2" fill="#FF4C4C"/>
<rect x="135.7" y="1078.6" width="38.5" height="13.2" fill="url(#hx)"/>
<rect x="135.7" y="1078.6" width="38.5" height="13.2" fill="none" stroke="#FFFFFF" stroke-width="0.8" stroke-dasharray="1.2 0.9"/>
<rect x="135.7" y="1107.7" width="38.5" height="12.6" fill="#FF4C4C"/>
<rect x="135.7" y="1107.7" width="38.5" height="12.6" fill="url(#hd2)"/>
<rect x="135.7" y="1107.7" width="38.5" height="12.6" fill="none" stroke="#FFFFFF" stroke-width="0.8" stroke-dasharray="1.2 0.9"/>
<rect x="305.7" y="1049.9" width="38.5" height="13" fill="#4C4CFF"/>
<rect x="305.7" y="1049.9" width="38.5" height="13" fill="none" stroke="#FFFFFF" stroke-width="0.8" stroke-dasharray="1.2 0.9"/>
<rect x="305.7" y="1078.6" width="38.5" height="13.2" fill="#4C4CFF"/>
<rect x="305.7" y="1078.6" width="38.5" height="13.2" fill="url(#hx)"/>
<rect x="305.7" y="1078.6" width="38.5" height="13.2" fill="none" stroke="#FFFFFF" stroke-width="0.8" stroke-dasharray="1.2 0.9"/>
<rect x="305.7" y="1107.7" width="38.5" height="12.6" fill="#4C4CFF"/>
<rect x="305.7" y="1107.7" width="38.5" height="12.6" fill="url(#hd2)"/>
<rect x="305.7" y="1107.7" width="38.5" height="12.6" fill="none" stroke="#FFFFFF" stroke-width="0.8" stroke-dasharray="1.2 0.9"/>
<rect x="477.9" y="1049.9" width="38.5" height="13" fill="#A6A6A6"/>
<rect x="477.9" y="1049.9" width="38.5" height="13" fill="none" stroke="#FFFFFF" stroke-width="0.8" stroke-dasharray="1.2 0.9"/>
<rect x="477.9" y="1078.6" width="38.5" height="13.2" fill="#A6A6A6"/>
<rect x="477.9" y="1078.6" width="38.5" height="13.2" fill="url(#hx)"/>
<rect x="477.9" y="1078.6" width="38.5" height="13.2" fill="none" stroke="#FFFFFF" stroke-width="0.8" stroke-dasharray="1.2 0.9"/>
<rect x="477.9" y="1107.7" width="38.5" height="12.6" fill="#A6A6A6"/>
<rect x="477.9" y="1107.7" width="38.5" height="12.6" fill="url(#hd2)"/>
<rect x="477.9" y="1107.7" width="38.5" height="12.6" fill="none" stroke="#FFFFFF" stroke-width="0.8" stroke-dasharray="1.2 0.9"/>
<rect x="645.7" y="1049.9" width="38.5" height="13" fill="#E0E0E0"/>
<rect x="645.7" y="1049.9" width="38.5" height="13" fill="none" stroke="#FFFFFF" stroke-width="0.8" stroke-dasharray="1.2 0.9"/>
<rect x="645.7" y="1078.6" width="38.5" height="13.2" fill="#E0E0E0"/>
<rect x="645.7" y="1078.6" width="38.5" height="13.2" fill="url(#hx)"/>
<rect x="645.7" y="1078.6" width="38.5" height="13.2" fill="none" stroke="#FFFFFF" stroke-width="0.8" stroke-dasharray="1.2 0.9"/>
<rect x="645.7" y="1107.7" width="38.5" height="12.6" fill="#E0E0E0"/>
<rect x="645.7" y="1107.7" width="38.5" height="12.6" fill="url(#hd2)"/>
<rect x="645.7" y="1107.7" width="38.5" height="12.6" fill="none" stroke="#FFFFFF" stroke-width="0.8" stroke-dasharray="1.2 0.9"/>
<text x="277.5" y="48.2" font-size="49.9" textLength="64.74" lengthAdjust="spacingAndGlyphs">xG</text>
<text x="356.67" y="48.2" font-size="49.9" textLength="265.24" lengthAdjust="spacingAndGlyphs">Breakdown</text>
<text x="290.84" y="83" font-size="23.9" textLength="47.1" lengthAdjust="spacingAndGlyphs" style="text-rendering:geometricPrecision">CGY</text>
<text x="344.12" y="83" font-size="23.9" textLength="14.19" lengthAdjust="spacingAndGlyphs" style="text-rendering:geometricPrecision">2</text>
<text x="365.86" y="83" font-size="23.9" textLength="21.69" lengthAdjust="spacingAndGlyphs" style="text-rendering:geometricPrecision">at</text>
<text x="395.54" y="83" font-size="23.9" textLength="36.59" lengthAdjust="spacingAndGlyphs" style="text-rendering:geometricPrecision">PHI</text>
<text x="437.99" y="83" font-size="23.9" textLength="21.69" lengthAdjust="spacingAndGlyphs" style="text-rendering:geometricPrecision">3,</text>
<text x="466.83" y="83" font-size="23.9" textLength="27.72" lengthAdjust="spacingAndGlyphs" style="text-rendering:geometricPrecision">06</text>
<text x="501.68" y="83" font-size="23.9" textLength="42.05" lengthAdjust="spacingAndGlyphs" style="text-rendering:geometricPrecision">Jan,</text>
<text x="551.4" y="83" font-size="23.9" textLength="55.24" lengthAdjust="spacingAndGlyphs" style="text-rendering:geometricPrecision">2024</text>
<text x="252.66" y="107" font-size="14.8" textLength="41.19" lengthAdjust="spacingAndGlyphs">Micah</text>
<text x="297.84" y="107" font-size="14.8" textLength="38.61" lengthAdjust="spacingAndGlyphs">Blake</text>
<text x="341" y="107" font-size="14.8" textLength="62.97" lengthAdjust="spacingAndGlyphs">McCurdy,</text>
<text x="410.41" y="107" font-size="14.8" textLength="128.49" lengthAdjust="spacingAndGlyphs">@IneffectiveMath,</text>
<text x="541.6" y="107" font-size="14.8" textLength="103.86" lengthAdjust="spacingAndGlyphs">hockeyviz.com</text>
<text x="572.18" y="154" font-size="20.3" textLength="33.27" lengthAdjust="spacingAndGlyphs">PHI</text>
<text x="611.92" y="154" font-size="20.3" textLength="30.65" lengthAdjust="spacingAndGlyphs">4.5</text>
<text x="649.32" y="154" font-size="20.3" textLength="28.48" lengthAdjust="spacingAndGlyphs">xG</text>
<text x="238.1" y="618.5" font-size="20.3" textLength="42.32" lengthAdjust="spacingAndGlyphs">CGY</text>
<text x="285.86" y="618.5" font-size="20.3" textLength="31.35" lengthAdjust="spacingAndGlyphs">2.1</text>
<text x="323.9" y="618.5" font-size="20.3" textLength="28.05" lengthAdjust="spacingAndGlyphs">xG</text>
<text x="774.16" y="213" font-size="14.7" textLength="102.72" lengthAdjust="spacingAndGlyphs">All Others 0.42</text>
<text x="773.16" y="263.7" font-size="14.7" textLength="79.87" lengthAdjust="spacingAndGlyphs">Seeler 0.11</text>
<text x="773.97" y="283.6" font-size="14.7" textLength="65.52" lengthAdjust="spacingAndGlyphs">York 0.11</text>
<text x="773.14" y="305.7" font-size="14.7" textLength="100.91" lengthAdjust="spacingAndGlyphs">Laughton 0.12</text>
<text x="773.08" y="331.8" font-size="14.7" textLength="72.41" lengthAdjust="spacingAndGlyphs">Brink 0.16</text>
<text x="773.94" y="362.6" font-size="14.7" textLength="87.85" lengthAdjust="spacingAndGlyphs">Zamula 0.17</text>
<text x="773.1" y="402.9" font-size="14.7" textLength="106.42" lengthAdjust="spacingAndGlyphs">Hathaway 0.26</text>
<text x="772.9" y="453.7" font-size="14.7" textLength="94.07" lengthAdjust="spacingAndGlyphs">Foerster 0.28</text>
<text x="773.9" y="509.5" font-size="14.7" textLength="94.84" lengthAdjust="spacingAndGlyphs">Atkinson 0.31</text>
<text x="773.99" y="574.6" font-size="14.7" textLength="84.97" lengthAdjust="spacingAndGlyphs">Tippett 0.46</text>
<text x="773.3" y="664.6" font-size="14.7" textLength="70.71" lengthAdjust="spacingAndGlyphs">Frost 0.50</text>
<text x="773.34" y="774.6" font-size="14.7" textLength="95.33" lengthAdjust="spacingAndGlyphs">Konecny 0.66</text>
<text x="773.61" y="932.6" font-size="14.7" textLength="100.73" lengthAdjust="spacingAndGlyphs">Couturier 1.00</text>
<text x="40.63" y="656" font-size="14.7" textLength="104.34" lengthAdjust="spacingAndGlyphs">0.19 All Others</text>
<text x="39.62" y="684.9" font-size="14.7" textLength="106.09" lengthAdjust="spacingAndGlyphs">0.12 Desimone</text>
<text x="45.05" y="707.7" font-size="14.7" textLength="100.12" lengthAdjust="spacingAndGlyphs">0.13 Backlund</text>
<text x="71.63" y="731.8" font-size="14.7" textLength="73.4" lengthAdjust="spacingAndGlyphs">0.13 Dubé</text>
<text x="17.65" y="757.6" font-size="14.7" textLength="127.89" lengthAdjust="spacingAndGlyphs">0.14 R. Andersson</text>
<text x="54.63" y="784.7" font-size="14.7" textLength="90.24" lengthAdjust="spacingAndGlyphs">0.14 Weegar</text>
<text x="73.03" y="814.5" font-size="14.7" textLength="72.21" lengthAdjust="spacingAndGlyphs">0.17 Kadri</text>
<text x="46.63" y="847.8" font-size="14.7" textLength="97.98" lengthAdjust="spacingAndGlyphs">0.18 Coleman</text>
<text x="31.63" y="885.1" font-size="14.7" textLength="113.6" lengthAdjust="spacingAndGlyphs">0.21 Huberdeau</text>
<text x="27.71" y="924.8" font-size="14.7" textLength="117.81" lengthAdjust="spacingAndGlyphs">0.22 E. Lindholm</text>
<text x="24.06" y="967.7" font-size="14.7" textLength="120.89" lengthAdjust="spacingAndGlyphs">0.23 Mangiapane</text>
<text x="14.49" y="1013.8" font-size="14.7" textLength="130.64" lengthAdjust="spacingAndGlyphs">0.24 Sharangovich</text>
<text x="189.91" y="1064" font-size="20.2" textLength="76.58" lengthAdjust="spacingAndGlyphs">EV Goal</text>
<text x="189.42" y="1092" font-size="20.2" textLength="74.47" lengthAdjust="spacingAndGlyphs">PP Goal</text>
<text x="190" y="1121" font-size="20.2" textLength="74.85" lengthAdjust="spacingAndGlyphs">PK Goal</text>
<text x="358.4" y="1064" font-size="20.2" textLength="80.46" lengthAdjust="spacingAndGlyphs">EV Save</text>
<text x="358.9" y="1092" font-size="20.2" textLength="77.65" lengthAdjust="spacingAndGlyphs">PP Save</text>
<text x="358.92" y="1121" font-size="20.2" textLength="78.18" lengthAdjust="spacingAndGlyphs">PK Save</text>
<text x="531.54" y="1064" font-size="20.2" textLength="75.37" lengthAdjust="spacingAndGlyphs">EV Miss</text>
<text x="531.73" y="1092" font-size="20.2" textLength="71.98" lengthAdjust="spacingAndGlyphs">PP Miss</text>
<text x="531.69" y="1121" font-size="20.2" textLength="73.36" lengthAdjust="spacingAndGlyphs">PK Miss</text>
<text x="698.86" y="1064" font-size="20.2" textLength="84.73" lengthAdjust="spacingAndGlyphs">EV Block</text>
<text x="698.94" y="1092" font-size="20.2" textLength="81.95" lengthAdjust="spacingAndGlyphs">PP Block</text>
<text x="698.94" y="1121" font-size="20.2" textLength="83.28" lengthAdjust="spacingAndGlyphs">PK Block</text>
</svg></body></html>
